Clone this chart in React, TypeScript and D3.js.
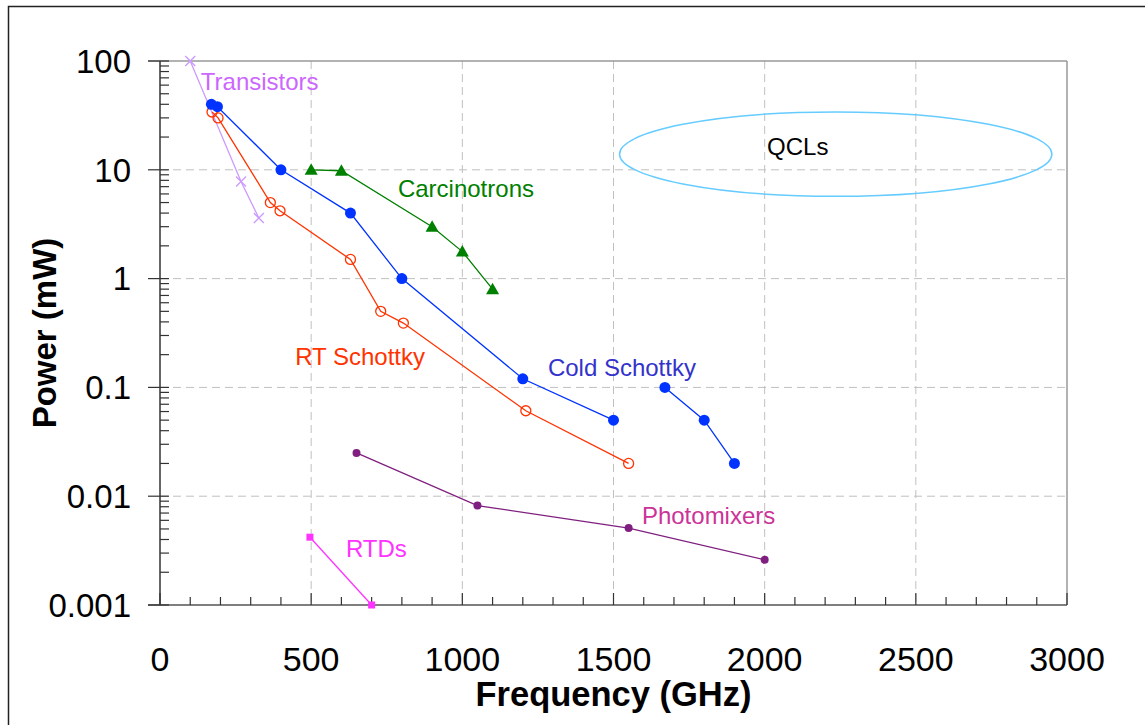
import React from "react";
import * as d3 from "d3";

// source power vs frequency
const transFreq = [100, 268, 327];
const transPower = [100, 7.8, 3.6];

const coldFreqA = [170, 190, 400, 630, 800, 1200, 1500];
const coldPowerA = [40, 38, 10, 4, 1, 0.12, 0.05];
const coldFreqB = [1670, 1800, 1900];
const coldPowerB = [0.1, 0.05, 0.02];

const rtFreq = [172, 192, 365, 397, 630, 730, 805, 1210, 1550];
const rtPower = [34, 30, 5, 4.2, 1.5, 0.5, 0.39, 0.061, 0.02];

const carcFreq = [500, 600, 900, 1000, 1100];
const carcPower = [10, 9.8, 3, 1.77, 0.8];

const photoFreq = [650, 1050, 1550, 2000];
const photoPower = [0.025, 0.0082, 0.0051, 0.0026];

const rtdFreq = [496, 700];
const rtdPower = [0.0042, 0.001];

// QCL region (ellipse bounds)
const qclFreq = [1520, 2950];
const qclPower = [5.7, 34];

const xTicks = [0, 500, 1000, 1500, 2000, 2500, 3000];
const yTicks = [0.001, 0.01, 0.1, 1, 10, 100];
const yTickLabels = ["0.001", "0.01", "0.1", "1", "10", "100"];

// label anchors (freq, power, text, colour)
const labels = [
  { f: 135, p: 54.6, text: "Transistors", color: "#cc66ff" },
  { f: 787, p: 5.67, text: "Carcinotrons", color: "#008000" },
  { f: 447, p: 0.159, text: "RT Schottky", color: "#ff3300" },
  { f: 1283, p: 0.128, text: "Cold Schottky", color: "#3333cc" },
  { f: 1594, p: 0.00558, text: "Photomixers", color: "#cc3399" },
  { f: 615, p: 0.00278, text: "RTDs", color: "#ff33ff" },
  { f: 2008, p: 13.8, text: "QCLs", color: "#000000" },
];

const W = 1145;
const H = 725;
const left = 160, right = 1067, top = 61, bottom = 605;

const x = d3.scaleLinear().domain([0, 3000]).range([left, right]);
const y = d3.scaleLog().domain([0.001, 100]).range([bottom, top]);

const zip = (fs: number[], ps: number[]) => fs.map((f, i) => [f, ps[i]] as [number, number]);
const line = d3
  .line<[number, number]>()
  .x((d) => x(d[0]))
  .y((d) => y(d[1]));

const font = "'Liberation Sans', Arial, sans-serif";

export default function App() {
  const minorY: number[] = [];
  for (let e = -3; e < 2; e++) {
    for (let k = 2; k <= 9; k++) minorY.push(k * Math.pow(10, e));
  }
  const minorX = d3.range(100, 3000, 100).filter((v) => v % 500 !== 0);

  const trans = zip(transFreq, transPower);
  const coldA = zip(coldFreqA, coldPowerA);
  const coldB = zip(coldFreqB, coldPowerB);
  const rt = zip(rtFreq, rtPower);
  const carc = zip(carcFreq, carcPower);
  const photo = zip(photoFreq, photoPower);
  const rtd = zip(rtdFreq, rtdPower);

  const ex0 = x(qclFreq[0]), ex1 = x(qclFreq[1]);
  const ey0 = y(qclPower[1]), ey1 = y(qclPower[0]);

  return (
    <svg
      width={W}
      height={H}
      style={{ position: "absolute", left: 0, top: 0, background: "#fff" }}
      fontFamily={font}
    >
      <rect x={8.5} y={6.5} width={W} height={H} fill="#fff" stroke="#222" strokeWidth={1.5} />

      {/* grid */}
      {xTicks.slice(1, -1).map((t) => (
        <line key={"gx" + t} x1={x(t)} x2={x(t)} y1={top} y2={bottom} stroke="#c0c0c0" strokeDasharray="8,5" />
      ))}
      {yTicks.slice(1, -1).map((t) => (
        <line key={"gy" + t} x1={left} x2={right} y1={y(t)} y2={y(t)} stroke="#c0c0c0" strokeDasharray="8,5" />
      ))}
      <line x1={148} x2={right} y1={top} y2={top} stroke="#999" strokeWidth={1.5} />
      <line x1={right} x2={right} y1={top} y2={bottom} stroke="#999" strokeWidth={1.5} />

      {/* axes */}
      <line x1={left} x2={left} y1={top} y2={bottom} stroke="#333" strokeWidth={1.5} />
      <line x1={148} x2={right} y1={bottom} y2={bottom} stroke="#555" strokeWidth={1.5} />
      {yTicks.map((t) => (
        <line key={"ty" + t} x1={148} x2={169} y1={y(t)} y2={y(t)} stroke="#333" strokeWidth={1.2} />
      ))}
      {minorY.map((t) => (
        <line key={"my" + t} x1={left} x2={169} y1={y(t)} y2={y(t)} stroke="#333" strokeWidth={1.2} />
      ))}
      {xTicks.map((t) => (
        <line key={"tx" + t} x1={x(t)} x2={x(t)} y1={bottom - 12} y2={bottom} stroke="#333" strokeWidth={1.2} />
      ))}
      {minorX.map((t) => (
        <line key={"mx" + t} x1={x(t)} x2={x(t)} y1={bottom - 8} y2={bottom} stroke="#333" strokeWidth={1.2} />
      ))}

      {yTicks.map((t, i) => (
        <text key={"ly" + t} x={131} y={y(t)} dy="0.36em" textAnchor="end" fontSize={33} fill="#000">
          {yTickLabels[i]}
        </text>
      ))}
      {xTicks.map((t) => (
        <text key={"lx" + t} x={x(t)} y={671} textAnchor="middle" fontSize={34} fill="#000">
          {t}
        </text>
      ))}

      <text x={(left + right) / 2} y={706} textAnchor="middle" fontSize={34.5} fontWeight="bold">
        Frequency (GHz)
      </text>
      <text
        transform={`translate(56,${(top + bottom) / 2}) rotate(-90)`}
        textAnchor="middle"
        fontSize={33}
        fontWeight="bold"
      >
        Power (mW)
      </text>

      {/* QCL ellipse */}
      <ellipse
        cx={(ex0 + ex1) / 2}
        cy={(ey0 + ey1) / 2}
        rx={(ex1 - ex0) / 2}
        ry={(ey1 - ey0) / 2}
        fill="none"
        stroke="#66ccff"
        strokeWidth={1.5}
      />

      {/* Transistors */}
      <path d={line(trans) || ""} fill="none" stroke="#cc99ff" strokeWidth={1.3} />
      {trans.map((d, i) => (
        <path
          key={"tr" + i}
          d="M-5,-5L5,5M-5,5L5,-5"
          transform={`translate(${x(d[0])},${y(d[1])})`}
          stroke="#cc99ff"
          strokeWidth={1.3}
        />
      ))}

      {/* RT Schottky */}
      <path d={line(rt) || ""} fill="none" stroke="#ff3300" strokeWidth={1.3} />
      {rt.map((d, i) => (
        <circle key={"rt" + i} cx={x(d[0])} cy={y(d[1])} r={5} fill="none" stroke="#ff3300" strokeWidth={1.3} />
      ))}

      {/* Cold Schottky */}
      {[coldA, coldB].map((s, j) => (
        <g key={"cs" + j}>
          <path d={line(s) || ""} fill="none" stroke="#0033ff" strokeWidth={1.3} />
          {s.map((d, i) => (
            <circle key={i} cx={x(d[0])} cy={y(d[1])} r={5.5} fill="#0033ff" />
          ))}
        </g>
      ))}

      {/* Carcinotrons */}
      <path d={line(carc) || ""} fill="none" stroke="#008000" strokeWidth={1.3} />
      {carc.map((d, i) => (
        <path key={"ca" + i} d="M0,-6.5L6.5,5L-6.5,5Z" transform={`translate(${x(d[0])},${y(d[1])})`} fill="#008000" />
      ))}

      {/* Photomixers */}
      <path d={line(photo) || ""} fill="none" stroke="#7f1f7f" strokeWidth={1.3} />
      {photo.map((d, i) => (
        <circle key={"ph" + i} cx={x(d[0])} cy={y(d[1])} r={4} fill="#7f1f7f" />
      ))}

      {/* RTDs */}
      <path d={line(rtd) || ""} fill="none" stroke="#ff33ff" strokeWidth={1.3} />
      {rtd.map((d, i) => (
        <rect key={"rd" + i} x={x(d[0]) - 3.5} y={y(d[1]) - 3.5} width={7} height={7} fill="#ff33ff" />
      ))}

      {labels.map((l) => (
        <text key={l.text} x={x(l.f)} y={y(l.p)} fontSize={24} fill={l.color}>
          {l.text}
        </text>
      ))}
    </svg>
  );
}
